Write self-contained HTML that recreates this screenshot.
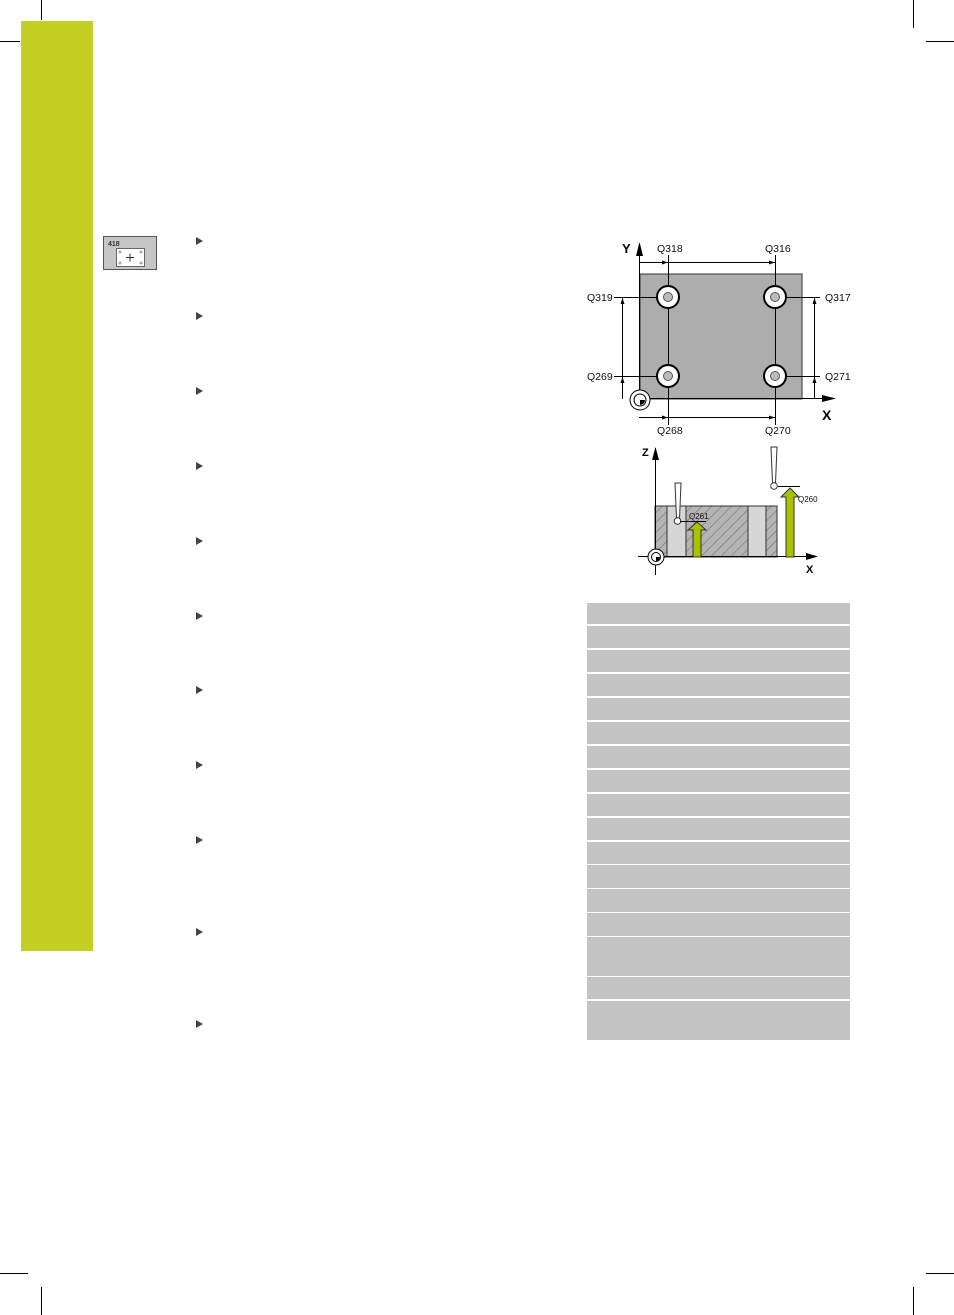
<!DOCTYPE html>
<html><head><style>html,body{margin:0;padding:0;background:#fff}svg{display:block}</style></head><body>
<svg width="954" height="1315" viewBox="0 0 954 1315" xmlns="http://www.w3.org/2000/svg" font-family="Liberation Sans, sans-serif">
<defs>
<pattern id="h" width="7" height="7" patternUnits="userSpaceOnUse" patternTransform="rotate(45)"><rect width="7" height="7" fill="#b4b4b4"/><line x1="0" y1="0" x2="0" y2="7" stroke="#555" stroke-width="0.8"/></pattern>
</defs>
<!-- crop marks -->
<g stroke="#000" stroke-width="1">
<line x1="41.5" y1="0" x2="41.5" y2="20"/><line x1="0" y1="41.5" x2="20" y2="41.5"/>
<line x1="913.5" y1="0" x2="913.5" y2="28"/><line x1="926" y1="41.5" x2="954" y2="41.5"/>
<line x1="0" y1="1273.5" x2="28" y2="1273.5"/><line x1="41.5" y1="1287" x2="41.5" y2="1315"/>
<line x1="926" y1="1273.5" x2="954" y2="1273.5"/><line x1="913.5" y1="1287" x2="913.5" y2="1315"/>
</g>
<rect x="21" y="21" width="72" height="930" fill="#c3cf23"/>
<!-- icon -->
<rect x="103.5" y="236.5" width="53" height="33" fill="#c6c6c6" stroke="#555"/>
<text x="108" y="246" font-size="7" font-weight="bold" fill="#333">418</text>
<rect x="116.5" y="248.5" width="28" height="18" fill="#fff" stroke="#666"/>
<g fill="#8ab0d8"><circle cx="120" cy="252" r="1.5"/><circle cx="141" cy="252" r="1.5"/><circle cx="120" cy="263" r="1.5"/><circle cx="141" cy="263" r="1.5"/></g>
<path d="M126 257.5h8M130 253.5v8" stroke="#333"/>
<!-- triangles -->
<g fill="#444">
<path d="M196 237l7 4-7 4z"/><path d="M196 312l7 4-7 4z"/><path d="M196 387l7 4-7 4z"/><path d="M196 462l7 4-7 4z"/><path d="M196 537l7 4-7 4z"/><path d="M196 612l7 4-7 4z"/><path d="M196 686l7 4-7 4z"/><path d="M196 761l7 4-7 4z"/><path d="M196 836l7 4-7 4z"/><path d="M196 928l7 4-7 4z"/><path d="M196 1020l7 4-7 4z"/>
</g>
<!-- top diagram -->
<rect x="640" y="274" width="162" height="125" fill="#adadad" stroke="#333"/>
<g stroke="#000" stroke-width="1" fill="none">
<line x1="639" y1="398.5" x2="828" y2="398.5"/>
<line x1="639.5" y1="400" x2="639.5" y2="248"/>
<line x1="639" y1="262.5" x2="775" y2="262.5"/>
<line x1="639" y1="417.5" x2="775" y2="417.5"/>
<line x1="668.5" y1="255" x2="668.5" y2="425"/>
<line x1="775.5" y1="255" x2="775.5" y2="425"/>
<line x1="614" y1="297.5" x2="666" y2="297.5"/><line x1="614" y1="376.5" x2="666" y2="376.5"/>
<line x1="777" y1="297.5" x2="820" y2="297.5"/><line x1="777" y1="376.5" x2="820" y2="376.5"/>
<line x1="622.5" y1="297" x2="622.5" y2="399"/>
<line x1="814.5" y1="297" x2="814.5" y2="399"/>
</g>
<g fill="#000">
<path d="M636 256l3.5-14 3.5 14z"/><path d="M822 395l14 3.5-14 3.5z"/>
<path d="M775 262.5l-6-2v4z"/><path d="M668 262.5l-6-2v4z"/><path d="M775 417.5l-6-2v4z"/><path d="M668 417.5l-6-2v4z"/>
<path d="M622.5 298l-2 6h4z"/><path d="M622.5 377l-2 6h4z"/><path d="M814.5 298l-2 6h4z"/><path d="M814.5 377l-2 6h4z"/>
</g>
<g>
<circle cx="668" cy="297" r="12" fill="#000"/><circle cx="668" cy="297" r="10" fill="#fff"/><circle cx="668" cy="297" r="4.5" fill="#bbb" stroke="#555"/>
<circle cx="775" cy="297" r="12" fill="#000"/><circle cx="775" cy="297" r="10" fill="#fff"/><circle cx="775" cy="297" r="4.5" fill="#bbb" stroke="#555"/>
<circle cx="668" cy="376" r="12" fill="#000"/><circle cx="668" cy="376" r="10" fill="#fff"/><circle cx="668" cy="376" r="4.5" fill="#bbb" stroke="#555"/>
<circle cx="775" cy="376" r="12" fill="#000"/><circle cx="775" cy="376" r="10" fill="#fff"/><circle cx="775" cy="376" r="4.5" fill="#bbb" stroke="#555"/>
</g>
<circle cx="640" cy="400" r="10" fill="#fff" stroke="#000"/><circle cx="640" cy="400" r="6" fill="none" stroke="#000"/><path d="M640 400h5a5 5 0 0 1-5 5z" fill="#000"/>
<g font-size="10.5" fill="#111">
<text x="657" y="252">Q318</text><text x="765" y="252">Q316</text>
<text x="587" y="301">Q319</text><text x="587" y="380">Q269</text>
<text x="825" y="301">Q317</text><text x="825" y="380">Q271</text>
<text x="657" y="434">Q268</text><text x="765" y="434">Q270</text>
</g>
<text x="622" y="253" font-size="13" font-weight="bold">Y</text>
<text x="822" y="420" font-size="14" font-weight="bold">X</text>
<!-- bottom diagram -->
<rect x="655" y="506" width="12" height="51" fill="url(#h)" stroke="#333"/>
<rect x="667" y="506" width="19" height="51" fill="#d6d6d6" stroke="#333"/>
<rect x="686" y="506" width="62" height="51" fill="url(#h)" stroke="#333"/>
<rect x="748" y="506" width="18" height="51" fill="#d6d6d6" stroke="#333"/>
<rect x="766" y="506" width="11" height="51" fill="url(#h)" stroke="#333"/>
<line x1="638" y1="556.5" x2="812" y2="556.5" stroke="#000"/>
<path d="M806 553l12 3.5-12 3.5z" fill="#000"/>
<line x1="655.5" y1="448" x2="655.5" y2="575" stroke="#000"/>
<path d="M652 460l3.5-13 3.5 13z" fill="#000"/>
<text x="642" y="456" font-size="11" font-weight="bold">Z</text>
<text x="806" y="573" font-size="11" font-weight="bold">X</text>
<circle cx="656" cy="557" r="8" fill="#fff" stroke="#000"/><circle cx="656" cy="557" r="4.5" fill="none" stroke="#000"/><path d="M656 557h4a4 4 0 0 1-4 4z" fill="#000"/>
<path d="M675 483h6l-1.5 36h-3z" fill="#fff" stroke="#333"/><circle cx="677.5" cy="521" r="3.3" fill="#fff" stroke="#333"/>
<path d="M771 447h6l-1.5 36h-3z" fill="#fff" stroke="#333"/><circle cx="774" cy="486" r="3.3" fill="#fff" stroke="#333"/>
<line x1="680" y1="521.5" x2="706" y2="521.5" stroke="#000"/>
<line x1="778" y1="486.5" x2="800" y2="486.5" stroke="#000"/>
<path d="M693 557v-27h-5l9-8 9 8h-5v27z" fill="#a8c200" stroke="#333"/>
<path d="M786 557v-60h-5l9-9 9 9h-5v60z" fill="#a8c200" stroke="#333"/>
<text x="689" y="519" font-size="8" fill="#111">Q261</text>
<text x="798" y="502" font-size="8" fill="#111">Q260</text>
<!-- table -->
<g fill="#c4c4c4">
<rect x="587" y="603" width="263" height="21"/>
<rect x="587" y="626" width="263" height="22"/>
<rect x="587" y="650" width="263" height="22"/>
<rect x="587" y="674" width="263" height="22"/>
<rect x="587" y="698" width="263" height="22"/>
<rect x="587" y="722" width="263" height="22"/>
<rect x="587" y="746" width="263" height="22"/>
<rect x="587" y="770" width="263" height="22"/>
<rect x="587" y="794" width="263" height="22"/>
<rect x="587" y="818" width="263" height="22"/>
<rect x="587" y="842" width="263" height="22"/>
<rect x="587" y="865" width="263" height="23"/>
<rect x="587" y="889" width="263" height="23"/>
<rect x="587" y="913" width="263" height="23"/>
<rect x="587" y="937" width="263" height="39"/>
<rect x="587" y="977" width="263" height="22"/>
<rect x="587" y="1001" width="263" height="39"/>
</g>
</svg>
</body></html>
